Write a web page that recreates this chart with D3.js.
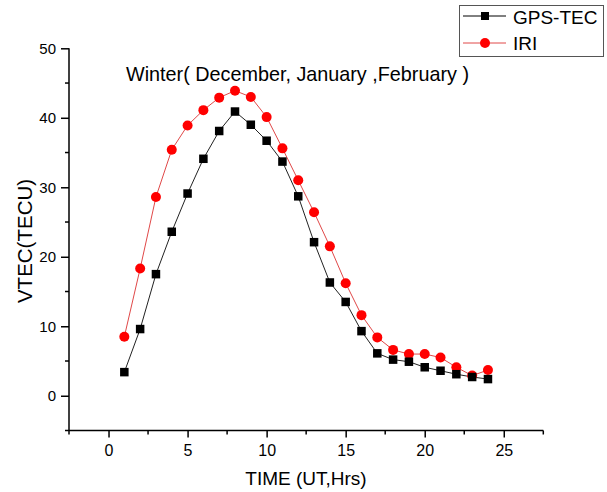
<!DOCTYPE html>
<html lang="en">
<head>
<meta charset="UTF-8">
<script src="https://d3js.org/d3.v7.min.js"></script>
<style>
  body { margin: 0; background: #fff; }
  text { font-family: "Liberation Sans", Arial, sans-serif; }
</style>
</head>
<body>
<div id="container"></div>
<script>
// hours (UT)
var hours = d3.range(1, 25);
var gpsTec = [3.4, 9.6, 17.5, 23.6, 29.1, 34.1, 38.1, 40.9, 39.0, 36.7, 33.7, 28.7,
              22.1, 16.3, 13.5, 9.3, 6.1, 5.2, 4.9, 4.1, 3.6, 3.1, 2.7, 2.4];
var iri = [8.5, 18.3, 28.6, 35.4, 38.9, 41.1, 42.9, 43.9, 43.0, 40.1, 35.6, 31.0,
           26.4, 21.5, 16.2, 11.6, 8.4, 6.6, 6.0, 6.0, 5.5, 4.1, 2.9, 3.7];
var xTicks = [0, 5, 10, 15, 20, 25];
var yTicks = [0, 10, 20, 30, 40, 50];

var width = 607, height = 492;
var svg = d3.select("#container").append("svg")
    .attr("width", width)
    .attr("height", height);

var x = d3.scaleLinear().domain([-2.5, 27.5]).range([69, 543.3]);
var y = d3.scaleLinear().domain([-5, 50]).range([430.5, 48.3]);

// y axis
var yAxis = d3.axisLeft(y).tickValues(yTicks).tickSize(8).tickPadding(5);
var gy = svg.append("g").attr("transform", "translate(" + x(-2.5) + ",0)").call(yAxis);
gy.select(".domain").attr("d", "M0," + y(-5) + "V" + y(50));
gy.selectAll(".minor").data(d3.range(-5, 50, 10)).enter().append("line")
    .attr("class", "minor")
    .attr("x1", -4).attr("x2", 0)
    .attr("y1", d => y(d)).attr("y2", d => y(d));
gy.selectAll(".tick text").attr("font-size", 15);

// x axis
var xAxis = d3.axisBottom(x).tickValues(xTicks).tickSize(7).tickPadding(7.5);
var gx = svg.append("g").attr("transform", "translate(0," + y(-5) + ")").call(xAxis);
gx.select(".domain").attr("d", "M" + x(-2.5) + ",0H" + x(27.5));
gx.selectAll(".minor").data(d3.range(-2.5, 28, 5)).enter().append("line")
    .attr("class", "minor")
    .attr("y1", 0).attr("y2", 4)
    .attr("x1", d => x(d)).attr("x2", d => x(d));
gx.selectAll(".tick text").attr("font-size", 16);

svg.selectAll(".tick text").attr("fill", "#000")
    .attr("font-family", "Liberation Sans, Arial, sans-serif");
svg.selectAll(".domain, .tick line, .minor").attr("stroke", "#000").attr("stroke-width", 1.5);

// axis titles
svg.append("text")
    .attr("transform", "translate(32,241) rotate(-90)")
    .attr("text-anchor", "middle")
    .attr("font-size", 20.5)
    .text("VTEC(TECU)");
svg.append("text")
    .attr("x", 306).attr("y", 485)
    .attr("text-anchor", "middle")
    .attr("font-size", 19)
    .text("TIME (UT,Hrs)");

// title
svg.append("text")
    .attr("x", 126).attr("y", 81)
    .attr("font-size", 19.8)
    .text("Winter( December, January ,February )");

// series
var line = d3.line()
    .x((d, i) => x(hours[i]))
    .y(d => y(d));

svg.append("path").datum(iri)
    .attr("fill", "none").attr("stroke", "#e04848").attr("stroke-width", 1)
    .attr("d", line);
svg.append("path").datum(gpsTec)
    .attr("fill", "none").attr("stroke", "#222").attr("stroke-width", 1)
    .attr("d", line);

svg.selectAll(".iri").data(iri).enter().append("circle")
    .attr("cx", (d, i) => x(hours[i]))
    .attr("cy", d => y(d))
    .attr("r", 5)
    .attr("fill", "#f00");

svg.selectAll(".gps").data(gpsTec).enter().append("rect")
    .attr("x", (d, i) => x(hours[i]) - 4.25)
    .attr("y", d => y(d) - 4.25)
    .attr("width", 8.5).attr("height", 8.5)
    .attr("fill", "#000");

// legend
var lg = svg.append("g");
lg.append("rect")
    .attr("x", 459.5).attr("y", 5.5)
    .attr("width", 144).attr("height", 51)
    .attr("fill", "#fff").attr("stroke", "#555");
lg.append("line").attr("x1", 463).attr("x2", 506).attr("y1", 16).attr("y2", 16).attr("stroke", "#000");
lg.append("rect").attr("x", 481).attr("y", 12).attr("width", 8).attr("height", 8).attr("fill", "#000");
lg.append("text").attr("x", 513).attr("y", 24).attr("font-size", 19).text("GPS-TEC");
lg.append("line").attr("x1", 463).attr("x2", 506).attr("y1", 43).attr("y2", 43).attr("stroke", "#e04848");
lg.append("circle").attr("cx", 485).attr("cy", 43).attr("r", 5).attr("fill", "#f00");
lg.append("text").attr("x", 513).attr("y", 50).attr("font-size", 19).text("IRI");
</script>
</body>
</html>
